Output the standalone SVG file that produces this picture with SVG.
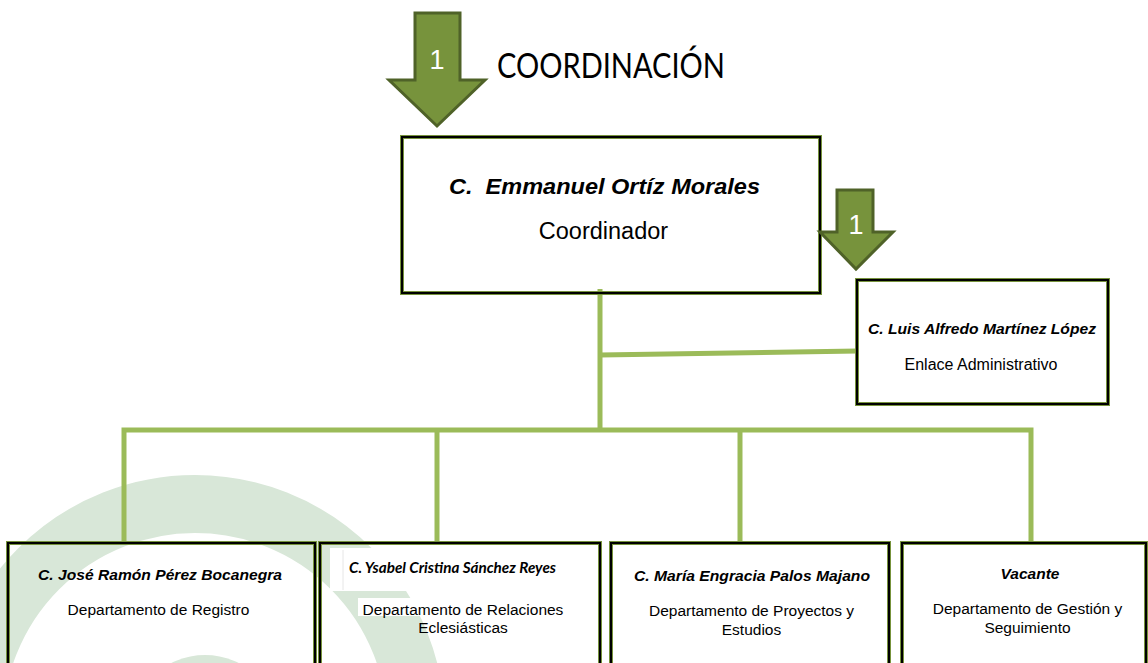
<svg xmlns="http://www.w3.org/2000/svg" width="1148" height="663" viewBox="0 0 1148 663">
<style>
.bg{fill:#ffffff}
.wm{fill:none;stroke:#d8e7d8;stroke-width:58}
.arrow{fill:#77933c;stroke:#4f6228;stroke-width:3;stroke-linejoin:miter}
.num{font-family:"Liberation Sans",Arial,sans-serif;font-size:27px;fill:#ffffff;text-anchor:middle}
.title{font-family:Lato,"Liberation Sans",sans-serif;font-size:34px;fill:#000000}
.boxg{fill:none;stroke:#77933c;stroke-width:4}
.boxk{fill:none;stroke:#000000;stroke-width:2}
.conn{fill:none;stroke:#9bbb59;stroke-width:5}
.name{font-family:"Liberation Sans",Arial,sans-serif;font-weight:bold;font-style:italic;fill:#000;text-anchor:middle;font-size:15.5px}
.role{font-family:"Liberation Sans",Arial,sans-serif;fill:#000;text-anchor:middle;font-size:15.5px}
.cal{font-family:Lato,"Open Sans",sans-serif;font-weight:bold;font-style:italic;fill:#000;font-size:15px}
</style>
<rect class="bg" x="0" y="0" width="1148" height="663"/>
<g id="watermark">
<circle class="wm" cx="195" cy="725" r="221"/>
<circle cx="205" cy="730" r="75" fill="#d8e7d8"/>
</g>
<g id="connectors">
<line class="conn" x1="600" y1="289" x2="600" y2="430"/>
<line class="conn" x1="600" y1="355" x2="858" y2="351"/>
<polyline class="conn" points="124,543 124,430 1031,430 1031,543"/>
<line class="conn" x1="437" y1="430" x2="437" y2="543"/>
<line class="conn" x1="740" y1="430" x2="740" y2="543"/>
</g>
<g id="title">
<polygon class="arrow" points="415,13 460,13 460,80 485,80 437,126 389,80 415,80"/>
<text class="num" x="437" y="69">1</text>
<text class="title" x="497" y="78" textLength="228" lengthAdjust="spacingAndGlyphs">COORDINACIÓN</text>
</g>
<g id="coordinador">
<rect class="boxg" x="402" y="137" width="418" height="156"/>
<rect class="boxk" x="402" y="137" width="418" height="156"/>
<text class="name" x="604.5" y="194" style="font-size:22px;white-space:pre" textLength="311" lengthAdjust="spacingAndGlyphs">C.  Emmanuel Ortíz Morales</text>
<text class="role" x="603.5" y="239" style="font-size:23.5px">Coordinador</text>
</g>
<g id="arrow2">
<polygon class="arrow" points="837,190 873,190 873,232 893,232 856,269 820,232 837,232"/>
<text class="num" x="856" y="234">1</text>
</g>
<g id="enlace">
<rect class="boxg" x="857" y="280" width="251" height="124"/>
<rect class="boxk" x="857" y="280" width="251" height="124"/>
<text class="name" x="982" y="334" textLength="228" lengthAdjust="spacingAndGlyphs">C. Luis Alfredo Martínez López</text>
<text class="role" x="981" y="370" style="font-size:16px">Enlace Administrativo</text>
</g>
<g id="registro">
<rect class="boxg" x="8" y="543" width="307" height="130"/>
<rect class="boxk" x="8" y="543" width="307" height="130"/>
<text class="name" x="160" y="580" textLength="244" lengthAdjust="spacingAndGlyphs">C. José Ramón Pérez Bocanegra</text>
<text class="role" x="158.5" y="615">Departamento de Registro</text>
</g>
<g id="relaciones">
<rect x="330" y="548" width="268" height="43" fill="#ffffff"/>
<line x1="343" y1="550" x2="343" y2="590" stroke="#e6e6e6" stroke-width="1"/>
<rect x="358" y="598" width="212" height="18" fill="#ffffff"/>
<rect class="boxg" x="320" y="543" width="280" height="130"/>
<rect class="boxk" x="320" y="543" width="280" height="130"/>
<text class="cal" x="349" y="573" textLength="207" lengthAdjust="spacingAndGlyphs">C. Ysabel Cristina Sánchez Reyes</text>
<text class="role" x="463" y="615">Departamento de Relaciones</text>
<text class="role" x="463" y="633">Eclesiásticas</text>
</g>
<g id="proyectos">
<rect class="boxg" x="611" y="543" width="278" height="130"/>
<rect class="boxk" x="611" y="543" width="278" height="130"/>
<text class="name" x="752" y="581" textLength="236" lengthAdjust="spacingAndGlyphs">C. María Engracia Palos Majano</text>
<text class="role" x="751.5" y="616">Departamento de Proyectos y</text>
<text class="role" x="751.5" y="635">Estudios</text>
</g>
<g id="gestion">
<rect class="boxg" x="902" y="543" width="244" height="130"/>
<rect class="boxk" x="902" y="543" width="244" height="130"/>
<text class="name" x="1030" y="579">Vacante</text>
<text class="role" x="1027.5" y="614">Departamento de Gestión y</text>
<text class="role" x="1027.5" y="633">Seguimiento</text>
</g>
</svg>
